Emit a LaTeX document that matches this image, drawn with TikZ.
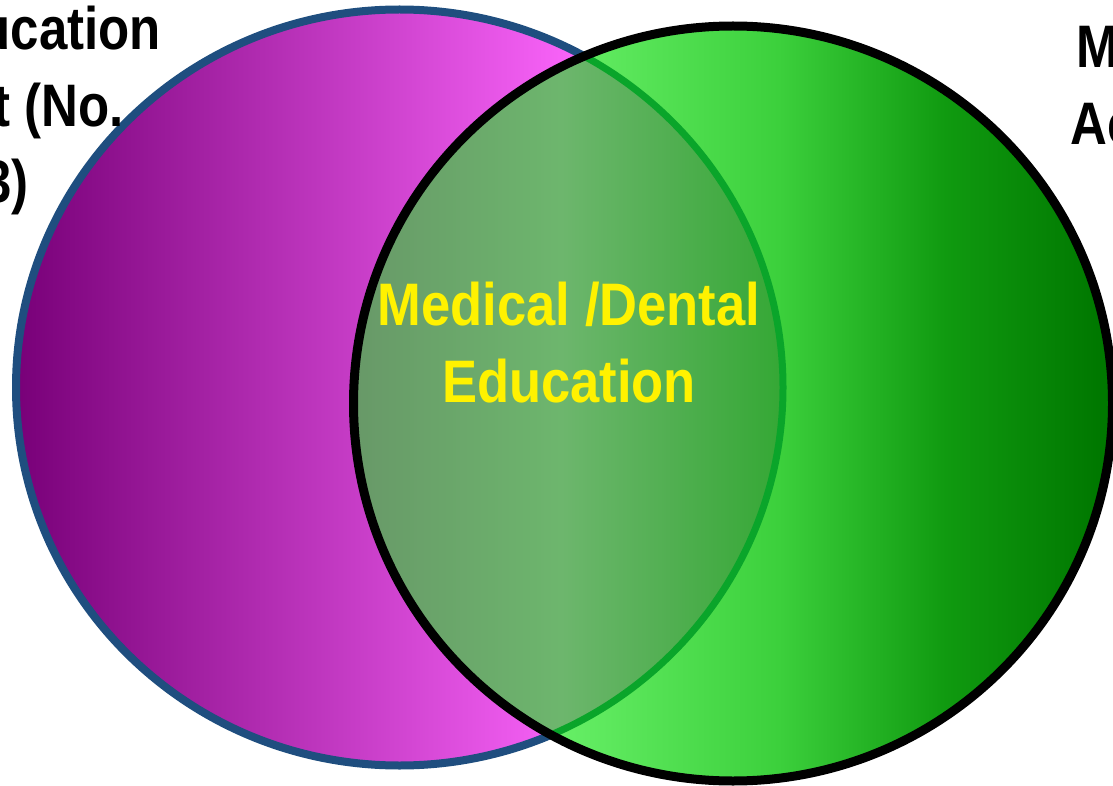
\documentclass[tikz,border=0pt]{standalone}
\usepackage{fontspec}
\setmainfont{Liberation Sans}
\pgfdeclarehorizontalshading{purpshade}{100bp}{
  color(0bp)=(rgb,255:red,120;green,0;blue,120);
  color(25bp)=(rgb,255:red,120;green,0;blue,120);
  color(63bp)=(rgb,255:red,255;green,104;blue,255);
  color(100bp)=(rgb,255:red,255;green,104;blue,255)}
\pgfdeclarehorizontalshading{greenshade}{100bp}{
  color(0bp)=(rgb,255:red,104;green,240;blue,104);
  color(38bp)=(rgb,255:red,104;green,240;blue,104);
  color(53bp)=(rgb,255:red,60;green,208;blue,60);
  color(64bp)=(rgb,255:red,16;green,154;blue,16);
  color(74bp)=(rgb,255:red,0;green,120;blue,0);
  color(100bp)=(rgb,255:red,0;green,120;blue,0)}
\pgfdeclarehorizontalshading{overlapshade}{100bp}{
  color(0bp)=(rgb,255:red,104;green,152;blue,104);
  color(25bp)=(rgb,255:red,104;green,152;blue,104);
  color(49bp)=(rgb,255:red,109;green,182;blue,109);
  color(74bp)=(rgb,255:red,53;green,168;blue,53);
  color(100bp)=(rgb,255:red,53;green,168;blue,53)}
\begin{document}
\begin{tikzpicture}[x=1pt,y=-1pt,
  lbltext/.style={font=\fontsize{60}{77}\selectfont\bfseries, inner sep=0pt},
  lbl/.style={lbltext, xscale=0.85},
  midlbl/.style={lbltext, text=yellow, xscale=0.875},
  leftcirc/.style={x radius=383.5pt, y radius=378pt},
  rightcirc/.style={x radius=379.5pt, y radius=377.5pt}]
\definecolor{blueline}{HTML}{1F4E7F}
\definecolor{garc}{HTML}{0AA52A}
\useasboundingbox (0,0) rectangle (1113,786);
\coordinate (L) at (399.5,387.5);
\coordinate (R) at (733,403.5);
% left circle
\shade[shading=purpshade] (L) ellipse [leftcirc];
\draw[blueline, line width=8pt] (L) ellipse [leftcirc];
% right circle fill
\shade[shading=greenshade] (R) ellipse [rightcirc];
% intersection
\begin{scope}
  \clip (L) ellipse [leftcirc];
  \clip (R) ellipse [rightcirc];
  \shade[shading=overlapshade] (350,0) rectangle (790,786);
\end{scope}
\begin{scope}
  \clip (R) ellipse [rightcirc];
  \draw[garc, line width=7pt] (L) ellipse [leftcirc];
\end{scope}
\draw[black, line width=9pt] (R) ellipse [rightcirc];
% labels
\node[lbl, anchor=base east] (l1) at (161,50) {ucation};
\node[lbl, anchor=base east] (l2) at (124,127) {t (No.};
\node[lbl, anchor=base east] (l3) at (29,203) {3)};
\node[lbl, anchor=base west] (r1) at (1076,68) {M};
\node[lbl, anchor=base west] (r2) at (1070,145) {Ac};
\node[midlbl, anchor=base] (m1) at (569,325) {Medical /Dental};
\node[midlbl, anchor=base] (m2) at (569,402) {Education};
\end{tikzpicture}
\end{document}
